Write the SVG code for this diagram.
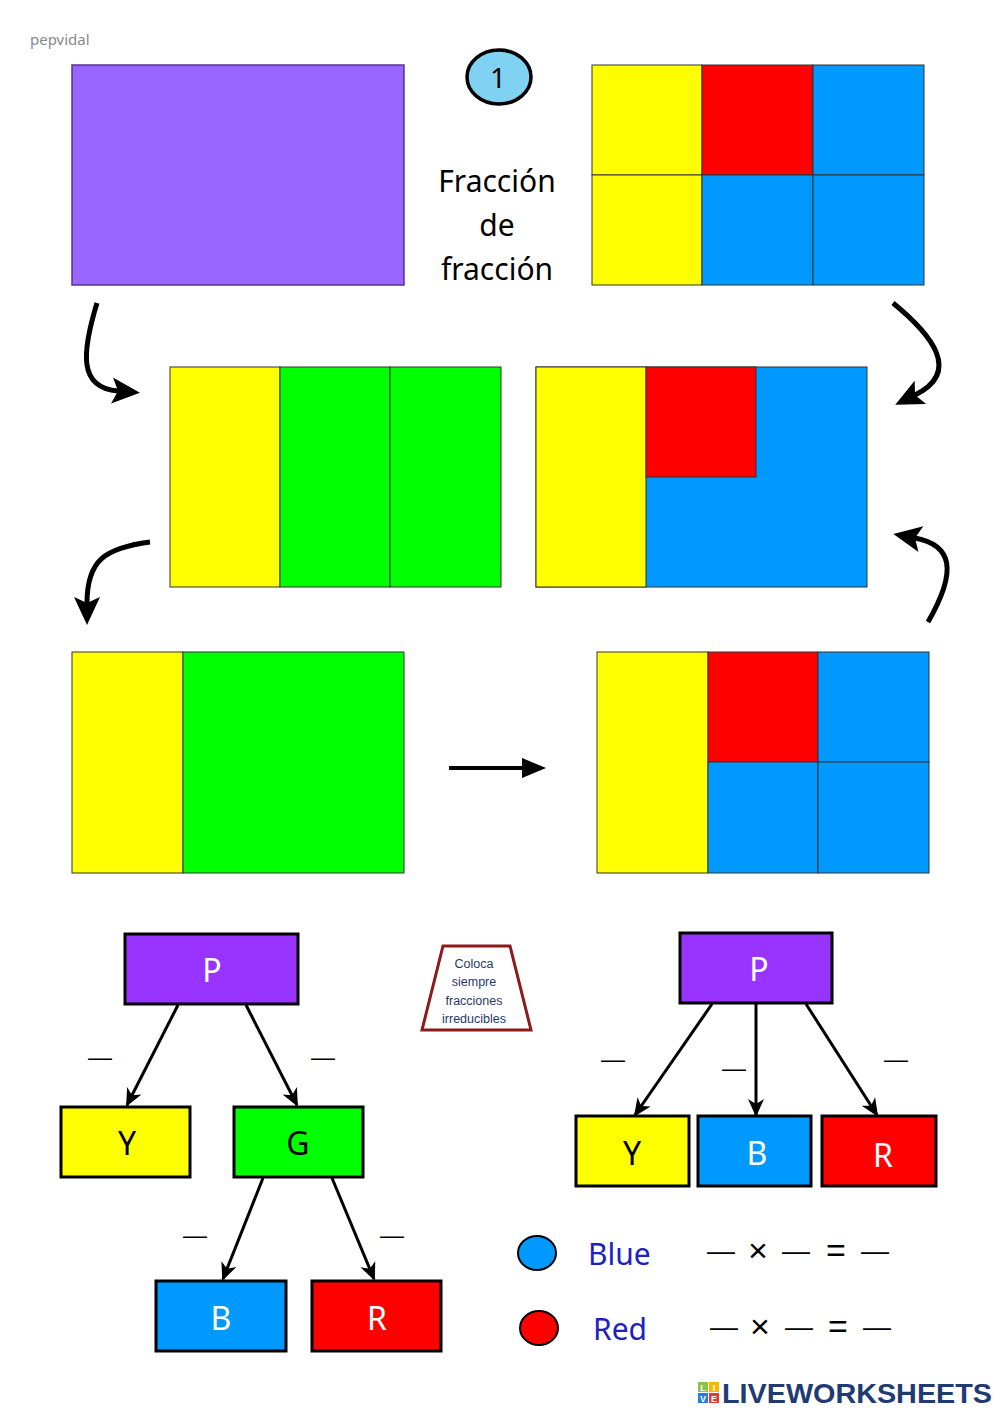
<svg xmlns="http://www.w3.org/2000/svg" width="1000" height="1413" viewBox="0 0 1000 1413">
<style>
.cell{stroke:#333;stroke-width:1}
.box{stroke:#000;stroke-width:3}
.lbl{font-family:"Noto Sans","DejaVu Sans",sans-serif;font-size:32px;text-anchor:middle}
.dash{font-family:"Liberation Sans",sans-serif;font-size:24px;text-anchor:middle;fill:#000}
.curve{fill:none;stroke:#000;stroke-width:5;stroke-linecap:butt}
.tree{fill:none;stroke:#000;stroke-width:3}
.eq{font-family:"Liberation Sans",sans-serif;font-size:28px;fill:#000;text-anchor:middle}
.op{font-family:"Liberation Sans",sans-serif;font-size:34px;fill:#000;text-anchor:middle}
</style>
<defs>
<marker id="bigHead" markerUnits="userSpaceOnUse" markerWidth="30" markerHeight="28" refX="6" refY="13" orient="auto" overflow="visible">
<path d="M0,0 L28,13 L0,26 L6,13 z" fill="#000"/>
</marker>
<marker id="smallHead" markerUnits="userSpaceOnUse" markerWidth="20" markerHeight="18" refX="16" refY="8" orient="auto" overflow="visible">
<path d="M0,0 L18,8 L0,16 L5,8 z" fill="#000"/>
</marker>
<marker id="lineHead" markerUnits="userSpaceOnUse" markerWidth="24" markerHeight="24" refX="2" refY="10" orient="auto" overflow="visible">
<path d="M0,0 L24,10 L0,20 z" fill="#000"/>
</marker>
</defs>
<rect width="1000" height="1413" fill="#fff"/>
<text x="30" y="45" font-family="'Noto Sans',sans-serif" font-size="15" fill="#888">pepvidal</text>

<g id="rect-whole">
<rect x="72" y="65" width="332" height="220" fill="#9966ff" stroke="#553399" stroke-width="1.5"/>
</g>
<g id="badge">
<ellipse cx="499" cy="77" rx="32" ry="27" fill="#7fd2f2" stroke="#000" stroke-width="3.5"/>
<text x="498" y="88" font-family="'Noto Sans',sans-serif" font-size="28" text-anchor="middle" fill="#000">1</text>
</g>
<g id="title" font-family="'Noto Sans',sans-serif" font-size="30" text-anchor="middle" fill="#000">
<text x="497" y="192">Fracción</text>
<text x="497" y="236">de</text>
<text x="497" y="280">fracción</text>
</g>
<g id="rect-six">
<rect class="cell" x="592" y="65" width="110" height="110" fill="#ffff00"/>
<rect class="cell" x="702" y="65" width="111" height="110" fill="#ff0000"/>
<rect class="cell" x="813" y="65" width="111" height="110" fill="#0099ff"/>
<rect class="cell" x="592" y="175" width="110" height="110" fill="#ffff00"/>
<rect class="cell" x="702" y="175" width="111" height="110" fill="#0099ff"/>
<rect class="cell" x="813" y="175" width="111" height="110" fill="#0099ff"/>
</g>
<g id="rect-thirds">
<rect class="cell" x="170" y="367" width="110" height="220" fill="#ffff00"/>
<rect class="cell" x="280" y="367" width="110" height="220" fill="#00ff00"/>
<rect class="cell" x="390" y="367" width="111" height="220" fill="#00ff00"/>
</g>
<g id="rect-split">
<rect class="cell" x="536" y="367" width="331" height="220" fill="#0099ff"/>
<rect class="cell" x="536" y="367" width="110" height="220" fill="#ffff00"/>
<rect class="cell" x="646" y="367" width="110" height="110" fill="#ff0000"/>
</g>
<g id="rect-yg">
<rect class="cell" x="72" y="652" width="111" height="221" fill="#ffff00"/>
<rect class="cell" x="183" y="652" width="221" height="221" fill="#00ff00"/>
</g>
<g id="rect-ybr">
<rect class="cell" x="597" y="652" width="111" height="221" fill="#ffff00"/>
<rect class="cell" x="708" y="652" width="110" height="110" fill="#ff0000"/>
<rect class="cell" x="818" y="652" width="111" height="110" fill="#0099ff"/>
<rect class="cell" x="708" y="762" width="110" height="111" fill="#0099ff"/>
<rect class="cell" x="818" y="762" width="111" height="111" fill="#0099ff"/>
</g>

<g id="flow-arrows">
<path class="curve" d="M97,303 C82,352 78,388 118,391" marker-end="url(#bigHead)"/>
<path class="curve" d="M893,303 C932,335 962,372 915,395" marker-end="url(#bigHead)"/>
<path class="curve" d="M150,542 C105,548 87,560 87,603" marker-end="url(#bigHead)"/>
<path class="curve" d="M928,622 C958,570 952,545 915,538" marker-end="url(#bigHead)"/>
<line x1="449" y1="768" x2="524" y2="768" stroke="#000" stroke-width="4" marker-end="url(#lineHead)"/>
</g>

<g id="tree1-P"><rect class="box" x="125" y="934" width="173" height="70" fill="#9933ff"/><text class="lbl" x="212" y="982" fill="#fff">P</text></g>
<g id="tree1-Y"><rect class="box" x="61" y="1107" width="129" height="70" fill="#ffff00"/><text class="lbl" x="127" y="1155" fill="#000">Y</text></g>
<g id="tree1-G"><rect class="box" x="234" y="1107" width="129" height="70" fill="#00ff00"/><text class="lbl" x="298" y="1155" fill="#000">G</text></g>
<g id="tree1-B"><rect class="box" x="156" y="1281" width="130" height="70" fill="#0099ff"/><text class="lbl" x="221" y="1330" fill="#fff">B</text></g>
<g id="tree1-R"><rect class="box" x="312" y="1281" width="129" height="70" fill="#ff0000"/><text class="lbl" x="377" y="1330" fill="#fff">R</text></g>

<g id="tree2-P"><rect class="box" x="680" y="933" width="152" height="70" fill="#9933ff"/><text class="lbl" x="759" y="981" fill="#fff">P</text></g>
<g id="tree2-Y"><rect class="box" x="576" y="1116" width="113" height="70" fill="#ffff00"/><text class="lbl" x="632" y="1165" fill="#000">Y</text></g>
<g id="tree2-B"><rect class="box" x="698" y="1116" width="113" height="70" fill="#0099ff"/><text class="lbl" x="757" y="1165" fill="#fff">B</text></g>
<g id="tree2-R"><rect class="box" x="822" y="1116" width="114" height="70" fill="#ff0000"/><text class="lbl" x="883" y="1167" fill="#fff">R</text></g>

<g id="tree-connectors">
<line class="tree" x1="178" y1="1005" x2="127" y2="1105" marker-end="url(#smallHead)"/>
<line class="tree" x1="246" y1="1005" x2="297" y2="1105" marker-end="url(#smallHead)"/>
<line class="tree" x1="263" y1="1178" x2="223" y2="1279" marker-end="url(#smallHead)"/>
<line class="tree" x1="332" y1="1178" x2="374" y2="1279" marker-end="url(#smallHead)"/>
<line class="tree" x1="712" y1="1004" x2="635" y2="1115" marker-end="url(#smallHead)"/>
<line class="tree" x1="756" y1="1004" x2="756" y2="1115" marker-end="url(#smallHead)"/>
<line class="tree" x1="806" y1="1004" x2="877" y2="1115" marker-end="url(#smallHead)"/>
</g>

<g id="blanks">
<text class="dash" x="100" y="1065">—</text>
<text class="dash" x="323" y="1065">—</text>
<text class="dash" x="195" y="1243">—</text>
<text class="dash" x="392" y="1243">—</text>
<text class="dash" x="613" y="1067">—</text>
<text class="dash" x="734" y="1076">—</text>
<text class="dash" x="896" y="1067">—</text>
</g>

<g id="note">
<path d="M443,946 L510,946 L531,1030 L422,1030 Z" fill="#fff" stroke="#8b1a1a" stroke-width="3" stroke-linejoin="miter"/>
<g font-family="'Liberation Sans',sans-serif" font-size="12.5" fill="#1f3a6a" text-anchor="middle">
<text x="474" y="968">Coloca</text>
<text x="474" y="986">siempre</text>
<text x="474" y="1005">fracciones</text>
<text x="474" y="1023">irreducibles</text>
</g>
</g>

<g id="legend-blue">
<ellipse cx="537" cy="1253" rx="19" ry="17" fill="#0099ff" stroke="#000" stroke-width="2"/>
<text x="588" y="1265" font-family="'Noto Sans',sans-serif" font-size="30" fill="#2020c0">Blue</text>
<text class="eq" x="721" y="1260">—</text>
<text class="op" x="758" y="1262">×</text>
<text class="eq" x="796" y="1260">—</text>
<text class="op" x="836" y="1262">=</text>
<text class="eq" x="875" y="1260">—</text>
</g>
<g id="legend-red">
<ellipse cx="539" cy="1328" rx="19" ry="17" fill="#ff0000" stroke="#000" stroke-width="2"/>
<text x="593" y="1340" font-family="'Noto Sans',sans-serif" font-size="30" fill="#2020c0">Red</text>
<text class="eq" x="724" y="1336">—</text>
<text class="op" x="760" y="1338">×</text>
<text class="eq" x="799" y="1336">—</text>
<text class="op" x="838" y="1338">=</text>
<text class="eq" x="877" y="1336">—</text>
</g>

<g id="logo">
<rect x="698" y="1382" width="10" height="10" fill="#8bc34a"/>
<rect x="709" y="1382" width="10" height="10" fill="#f5b800"/>
<rect x="698" y="1393" width="10" height="10" fill="#2a7fd4"/>
<rect x="709" y="1393" width="10" height="10" fill="#e53935"/>
<g font-family="'Liberation Sans',sans-serif" font-size="9" font-weight="bold" fill="#fff" text-anchor="middle">
<text x="703" y="1391">L</text><text x="714" y="1391">I</text><text x="703" y="1402">V</text><text x="714" y="1402">E</text>
</g>
<text x="722" y="1403" font-family="'Liberation Sans',sans-serif" font-size="27" font-weight="bold" fill="#1f3b73" textLength="270" lengthAdjust="spacingAndGlyphs">LIVEWORKSHEETS</text>
</g>
</svg>
